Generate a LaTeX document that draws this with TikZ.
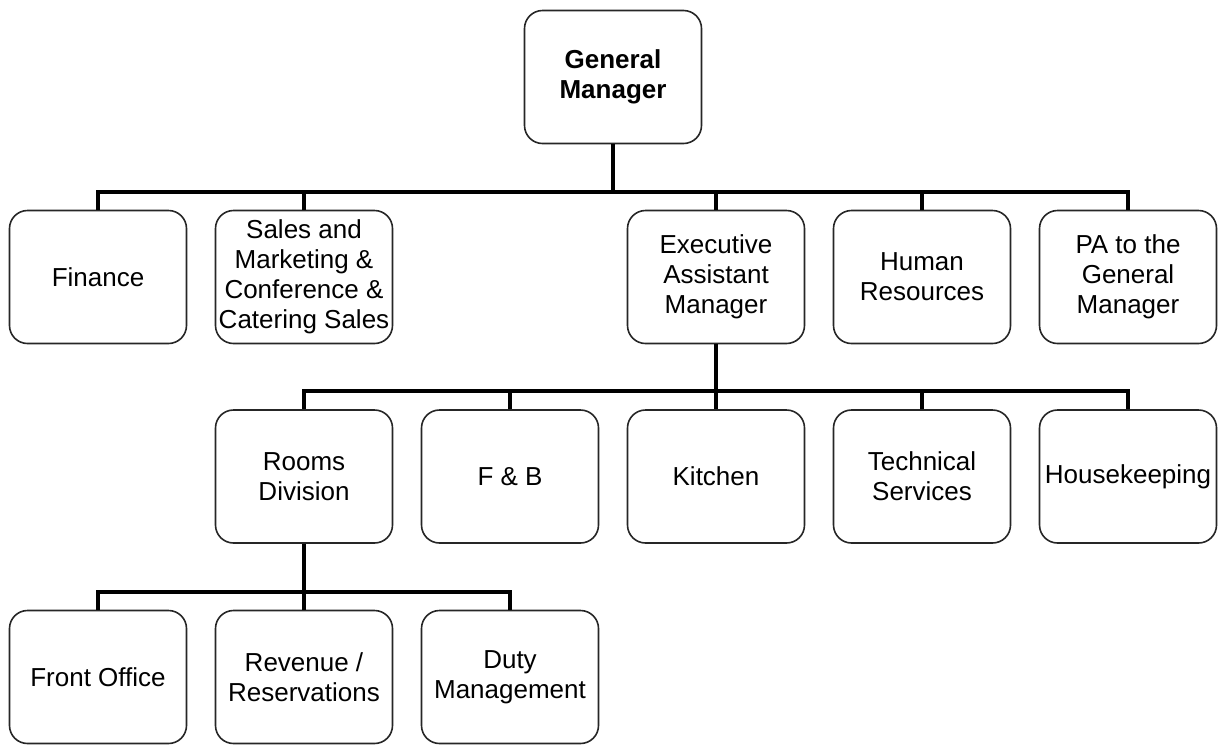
\documentclass[tikz,border=0pt]{standalone}
\usepackage{fontspec}
\setmainfont{Liberation Sans}

\begin{document}
\begin{tikzpicture}[x=0.5pt,y=-0.5pt,
  box/.style={draw=black!85,line width=0.8pt,rounded corners=9pt,fill=white,
    minimum width=88.5pt,minimum height=66.5pt,inner sep=0pt,align=center,
    font=\fontsize{13}{15}\selectfont},
  link/.style={line width=1.7pt}]
\useasboundingbox (0,0) rectangle (1218,745);
% top level
\node[box,font=\fontsize{13}{15}\selectfont\bfseries] (gm) at (613,77) {General\\Manager};
% first row
\node[box] (fin) at (98,277) {Finance};
\node[box] (sal) at (304,277) {Sales and\\Marketing \&\\Conference \&\\Catering Sales};
\node[box] (eam) at (716,277) {Executive\\Assistant\\Manager};
\node[box] (hr) at (922,277) {Human\\Resources};
\node[box] (pa) at (1128,277) {PA to the\\General\\Manager};
% second row
\node[box] (rd) at (304,476.5) {Rooms\\Division};
\node[box] (fb) at (510,476.5) {F \& B};
\node[box] (kit) at (716,476.5) {Kitchen};
\node[box] (tech) at (922,476.5) {Technical\\Services};
\node[box] (hk) at (1128,476.5) {Housekeeping};
% third row
\node[box] (fo) at (98,677) {Front Office};
\node[box] (rev) at (304,677) {Revenue /\\Reservations};
\node[box] (duty) at (510,677) {Duty\\Management};
% bus lines
\coordinate (b1) at (613,192);
\coordinate (b2) at (716,391);
\coordinate (b3) at (304,592);
\foreach \c in {fin,sal,eam,hr,pa}
  \draw[link] (gm.south) -- (b1) -| (\c.north);
\foreach \c in {rd,fb,kit,tech,hk}
  \draw[link] (eam.south) -- (b2) -| (\c.north);
\foreach \c in {fo,rev,duty}
  \draw[link] (rd.south) -- (b3) -| (\c.north);
\end{tikzpicture}
\end{document}
